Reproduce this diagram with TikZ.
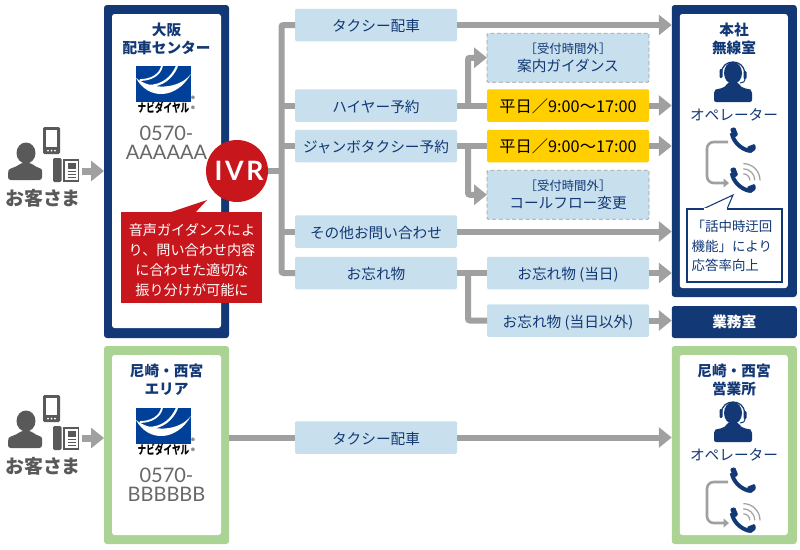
\documentclass[tikz,border=0pt]{standalone}
\usepackage{graphicx}
\usepackage{fontspec}
\setmainfont{Noto Sans CJK JP}
\newfontfamily\numfont{Lato}
\usetikzlibrary{arrows.meta,positioning,calc}
\newcommand{\px}{.75pt}
\definecolor{navy}{HTML}{123876}
\definecolor{lineblue}{HTML}{004098}
\definecolor{framegreen}{HTML}{ABD394}
\definecolor{paleblue}{HTML}{C8DFED}
\definecolor{timeyellow}{HTML}{FFCF00}
\definecolor{ivrred}{HTML}{C8161D}
\definecolor{linegray}{HTML}{A0A0A0}
\definecolor{darkgray}{HTML}{595959}
\definecolor{dialgray}{HTML}{686868}
\tikzset{
  clientpic/.pic={
    \fill[darkgray] (26,33) ellipse [x radius=9.5,y radius=10.5];
    \fill[darkgray,rounded corners=2] (8,60) -- (8,53) .. controls (9,48) and (15,48) .. (21,43) -- (31,43) .. controls (37,48) and (42,48) .. (42,53) -- (42,60) -- cycle;
    % mobile
    \fill[darkgray,rounded corners=1] (43,7) rectangle (60,34);
    \fill[white] (45.7,10) rectangle (57.3,27);
    \foreach \dotx in {48,51.5,55} \fill[white] (\dotx,30.5) circle [radius=1];
    % desk phone
    \fill[darkgray,rounded corners=1] (53,38) rectangle (61.5,62);
    \fill[darkgray] (63,39) rectangle (79,62);
    \fill[white] (65,41) rectangle (77.5,60);
    \fill[darkgray] (67.5,43) rectangle (75.5,48.5);
    \foreach \liney in {50.5,53.5,56.5} \fill[darkgray] (67.5,\liney) rectangle (75.5,\liney+1.5);
    \node (name) [font=\fontsize{14.2}{16}\selectfont\bfseries,text=darkgray] at (43,78) {お客さま};
  },
  logopic/.pic={
    \fill[lineblue] (0,0) rectangle (55,36);
    \fill[white] (0,12) .. controls (12,34) and (40,34) .. (55,8) .. controls (42,24) and (15,24) .. (0,12) -- cycle;
    \draw[white,line width=1.8*\px] (26,0) .. controls (24,9) and (15,14) .. (4,14);
    \draw[white,line width=2.2*\px] (41,0) .. controls (36,12) and (26,20) .. (12,20);
    \node (mark) [font=\fontsize{9}{10}\selectfont\bfseries,text=black,inner sep=0pt] at (27.5,42) {\scalebox{.72}[1]{ナビダイヤル}};
    \node (regone) [font=\fontsize{6}{6}\selectfont,text=black,inner sep=0pt] at (57,33) {®};
    \node (regtwo) [font=\fontsize{6}{6}\selectfont,text=black,inner sep=0pt] at (57,43.5) {®};
  },
  operatorpic/.pic={
    \fill[navy] (0,13) ellipse [x radius=9,y radius=11];
    \fill[navy,rounded corners=1.5] (-19,42) -- (-19,31) .. controls (-17,29) and (-8,29) .. (-5,22) -- (5,22) .. controls (8,29) and (17,29) .. (19,31) -- (19,42) -- cycle;
    \draw[navy,line width=1.2*\px] (-11.5,13) .. controls (-11.5,-1.7) and (11.5,-1.7) .. (11.5,13);
    \fill[navy,rounded corners=.8] (-13.5,9) rectangle (-10.5,18);
    \fill[navy,rounded corners=.8] (10.5,11) rectangle (13.5,19);
    \draw[navy,line width=1*\px] (12,18) .. controls (12,22) and (10,23) .. (7,23);
  },
  phonepic/.pic={
    \fill[navy,rounded corners=1] (0,1.7) -- (5,0) -- (8.3,8.3) -- (3.3,11) -- cycle;
    \fill[navy,rounded corners=1] (16.7,20) -- (25,16.7) -- (26,22.3) -- (20,26.7) -- cycle;
    \draw[navy,line width=4*\px] (1.8,6) .. controls (3,14) and (10,22) .. (20,24);
  },
  wavepic/.pic={
    \draw[linegray,line width=1.2*\px] (13.3,-3.4) .. controls (22.5,-3.4) and (30,4.1) .. (30,13.3);
    \draw[linegray,line width=1.2*\px] (13.3,1.8) .. controls (19.6,1.8) and (24.8,7) .. (24.8,13.3);
    \draw[linegray,line width=1.2*\px] (13.3,6.8) .. controls (16.9,6.8) and (19.8,9.7) .. (19.8,13.3);
  }
}
\begin{document}
\begin{tikzpicture}[x=.75pt,y=-.75pt,node distance=22.5pt,
    framenavy/.style={
    rectangle,fill=navy,rounded corners=2.2pt,
    minimum width=125*\px,inner sep=0pt,outer sep=0pt},
    framegrn/.style={
    framenavy,fill=framegreen,minimum height=198*\px},
    frameinner/.style={fill=white,rounded corners=2pt},
    menubox/.style={
    % The shape:
    rectangle,minimum width=162*\px,minimum height=32.5*\px,rounded corners=1pt,
    inner sep=0pt,outer sep=0pt,
    % The rest
    fill=paleblue,text=navy,text height=11pt,text depth=1.2pt,font=\fontsize{11}{13.5}\selectfont},
    timebox/.style={menubox,fill=timeyellow,text=black,font=\fontsize{12.2}{14}\selectfont},
    offbox/.style={menubox,text height=,text depth=,minimum height=49*\px,draw=linegray,line width=.7pt,densely dashed,align=center},
    frametitle/.style={text=navy,align=center,inner sep=0pt,font=\fontsize{11}{13.5}\selectfont\bfseries},
    dialno/.style={text=dialgray,align=center,inner sep=0pt,font=\numfont\fontsize{15}{14.5}\selectfont},
    opname/.style={text=navy,inner sep=0pt,font=\fontsize{11}{13.5}\selectfont},
    conn/.style={draw=linegray,line width=6*\px,rounded corners=1.5pt},
    connarrow/.style={conn,-{Triangle[length=9.75pt,width=15pt]}},
    looparrow/.style={draw=linegray,line width=2.6*\px,rounded corners=5pt,-{Triangle[length=4pt,width=6.5pt]}}]
    \useasboundingbox (0,0) rectangle (800,550);
    % frames
    \node (osaka) [framenavy,minimum height=333*\px] at (166.5,171.5) {};
    \fill[frameinner] ($(osaka.north west)+(8,9)$) rectangle ($(osaka.south east)+(-8,-10)$);
    \node (honsha) [framenavy,minimum height=292*\px] at (734.25,151) {};
    \fill[frameinner] ($(honsha.north west)+(8,9)$) rectangle ($(honsha.south east)+(-9,-9)$);
    \node (gyomu) [rectangle,fill=navy,text=white,rounded corners=2pt,minimum width=125*\px,minimum height=32*\px,
        inner sep=0pt,outer sep=0pt,font=\fontsize{11}{13.5}\selectfont\bfseries] at (734.25,322) {業務室};
    \node (amaarea) [framegrn] at (166.5,445) {};
    \fill[frameinner] ($(amaarea.north west)+(8,9)$) rectangle ($(amaarea.south east)+(-8,-9)$);
    \node (amaoffice) [framegrn] at (734.25,445) {};
    \fill[frameinner] ($(amaoffice.north west)+(8,9)$) rectangle ($(amaoffice.south east)+(-9,-9)$);
    % menu column
    \node (taxi) [menubox] at (376,25) {タクシー配車};
    \node (hire) [menubox] at (376,105.5) {ハイヤー予約};
    \node (jumbo) [menubox] at (376,146) {ジャンボタクシー予約};
    \node (other) [menubox] at (376,231.5) {その他お問い合わせ};
    \node (lost) [menubox] at (376,273) {お忘れ物};
    \node (taxitwo) [menubox] at (376,437.5) {タクシー配車};
    % second column
    \node (hiretime) [timebox,right=of hire] {平日／9:00〜17:00};
    \node (guide) [offbox,above=5.25pt of hiretime] {{\fontsize{9.3}{13}\selectfont ［受付時間外］}\\案内ガイダンス};
    \node (jumbotime) [timebox,right=of jumbo] {平日／9:00〜17:00};
    \node (flow) [offbox,below=6pt of jumbotime] {{\fontsize{9.3}{13}\selectfont ［受付時間外］}\\コールフロー変更};
    \node (today) [menubox,right=of lost] {お忘れ物 (当日)};
    \node (nottoday) [menubox,below=11.25pt of today] {お忘れ物 (当日以外)};
    % connectors
    \coordinate (trunk) at (281.5,171);
    \coordinate (hirefork) at (468,105.5);
    \coordinate (jumbofork) at (468,146);
    \coordinate (lostfork) at (468,273);
    \draw[conn] (taxi.west) -- (trunk |- taxi.west) -- (trunk |- lost.west) -- (lost.west);
    \draw[conn] (hire.west) -- (trunk |- hire.west);
    \draw[conn] (jumbo.west) -- (trunk |- jumbo.west);
    \draw[conn] (other.west) -- (trunk |- other.west);
    \draw[conn] (osaka.east |- trunk) -- (trunk);
    \draw[connarrow] (taxi.east) -- (honsha.west |- taxi.east);
    \draw[conn] (hire.east) -- (hiretime.west);
    \draw[conn] (jumbo.east) -- (jumbotime.west);
    \draw[connarrow] (hirefork) -- (hirefork |- guide.west) -- (guide.west);
    \draw[connarrow] (jumbofork) -- (jumbofork |- flow.west) -- (flow.west);
    \draw[connarrow] (hiretime.east) -- (honsha.west |- hiretime.east);
    \draw[connarrow] (jumbotime.east) -- (honsha.west |- jumbotime.east);
    \draw[connarrow] (other.east) -- (honsha.west |- other.east);
    \draw[conn] (lost.east) -- (today.west);
    \draw[conn] (lostfork) -- (lostfork |- nottoday.west) -- (nottoday.west);
    \draw[connarrow] (today.east) -- (honsha.west |- today.east);
    \draw[connarrow] (nottoday.east) -- (gyomu.west |- nottoday.east);
    \draw[conn] (amaarea.east |- taxitwo.west) -- (taxitwo.west);
    \draw[connarrow] (taxitwo.east) -- (amaoffice.west |- taxitwo.east);
    % customers
    \pic (clientone) at (0,120) {clientpic};
    \pic (clienttwo) at (0,388) {clientpic};
    \coordinate (clientoneout) at (82,171);
    \coordinate (clienttwoout) at (82,438);
    \draw[connarrow,line width=7*\px] (clientoneout) -- (osaka.west |- clientoneout);
    \draw[connarrow,line width=7*\px] (clienttwoout) -- (amaarea.west |- clienttwoout);
    % osaka centre
    \node (osakatitle) [frametitle] at (166.5,39) {大阪\\配車センター};
    \pic (logoone) at (136,66) {logopic};
    \node (dialone) [dialno] at (166.5,143) {0570-\\AAAAAA};
    \node (ivr) [circle,fill=ivrred,text=white,minimum size=62*\px,inner sep=0pt,
        font=\numfont\bfseries\fontsize{20}{20}\selectfont\addfontfeature{LetterSpace=10}] at (237,171) {\hspace*{3pt}IVR};
    \fill[ivrred] (168,213) -- (207,200) -- (195,213) -- cycle;
    \node (ivrnote) [rectangle,fill=ivrred,minimum width=141*\px,minimum height=91*\px,inner sep=0pt] at (191.5,257.5) {};
    \node (ivrnotetext) [text=white,inner sep=0pt,align=center,font=\fontsize{10.6}{15}\selectfont] at (192,260) {音声ガイダンスによ\\り、問い合わせ内容\\に合わせた適切な\\振り分けが可能に};
    % head office
    \node (honshatitle) [frametitle] at (734,39) {本社\\無線室};
    \pic (operone) at (733,60) {operatorpic};
    \node (opone) [opname] at (734,115) {オペレーター};
    \coordinate (loopstart) at (728,142);
    \coordinate (loopend) at (729,183);
    \draw[looparrow] (loopstart) -- (707,142) -- (707,183) -- (loopend);
    \pic (phoneone) at (730,127) {phonepic};
    \pic (phonetwo) at (730,167) {phonepic};
    \pic (waveone) at (730,167) {wavepic};
    \node (bubble) [rectangle,draw=navy,fill=white,line width=.8pt,minimum width=95*\px,minimum height=73*\px,
        inner sep=0pt] at (734.5,245.5) {};
    \filldraw[draw=navy,fill=white,line width=.8pt] (703,209) -- (733,195) -- (727,209);
    \fill[white] (704,208.3) rectangle (726.5,210.5);
    \node (bubbletext) [text=navy,align=left,inner sep=0pt,font=\fontsize{10.1}{14.7}\selectfont] at (732,246) {「話中時迂回\\機能」により\\応答率向上};
    % amagasaki
    \node (amaareatitle) [frametitle] at (166.5,380) {尼崎・西宮\\エリア};
    \pic (logotwo) at (136,408) {logopic};
    \node (dialtwo) [dialno] at (166.5,485) {0570-\\BBBBBB};
    \node (amaofficetitle) [frametitle] at (734,380) {尼崎・西宮\\営業所};
    \pic (opertwo) at (733,400) {operatorpic};
    \node (optwo) [opname] at (734,455) {オペレーター};
    \coordinate (looptwostart) at (728,482);
    \coordinate (looptwoend) at (729,523);
    \draw[looparrow] (looptwostart) -- (707,482) -- (707,523) -- (looptwoend);
    \pic (phonethree) at (730,467) {phonepic};
    \pic (phonefour) at (730,507) {phonepic};
    \pic (wavetwo) at (730,507) {wavepic};
\end{tikzpicture}
\end{document}
